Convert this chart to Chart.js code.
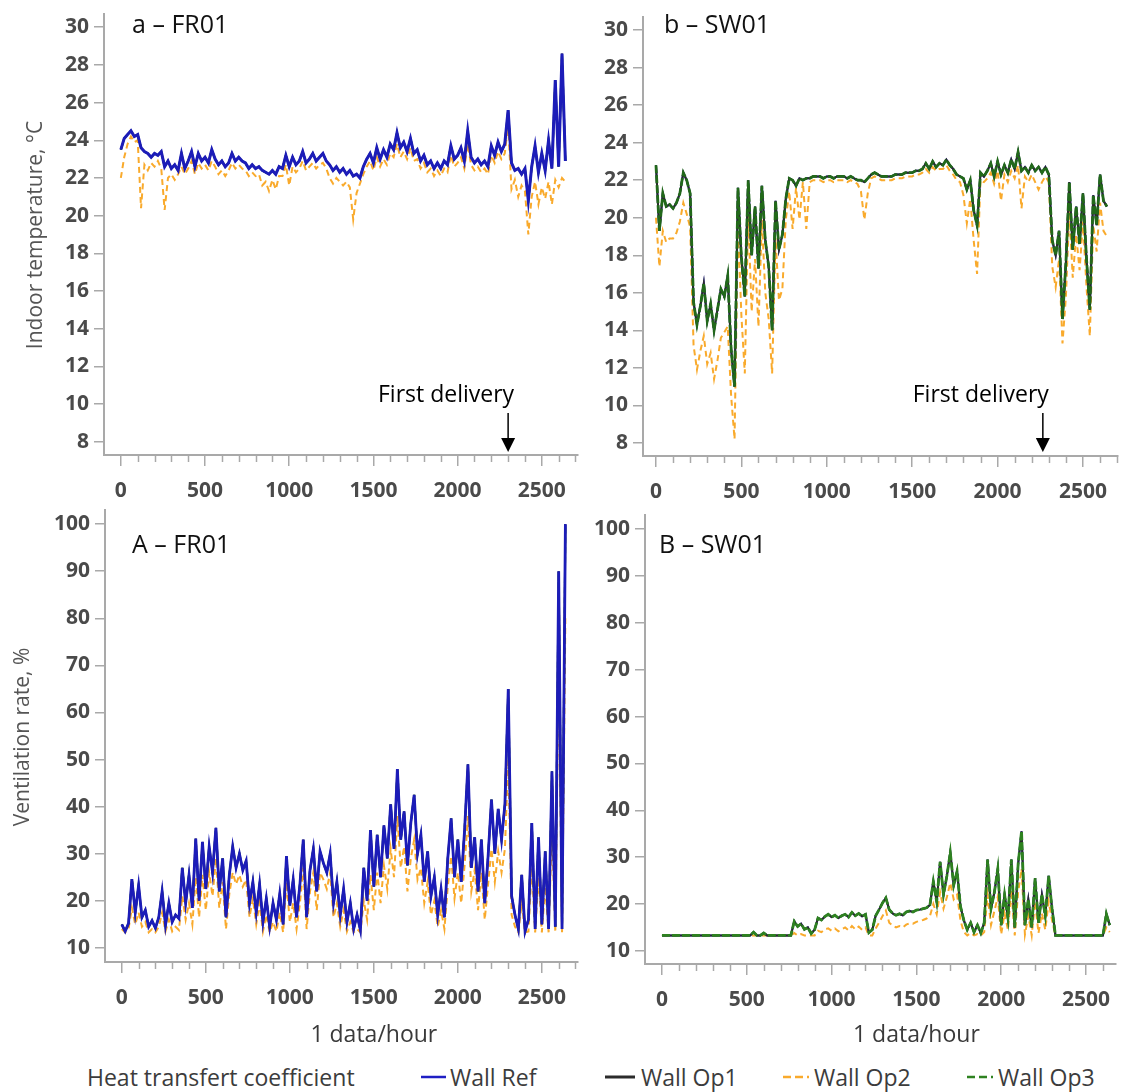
<!DOCTYPE html>
<html>
<head>
<meta charset="utf-8">
<script src="https://cdn.jsdelivr.net/npm/chart.js@4.4.1/dist/chart.umd.min.js"></script>
<style>
  body { margin: 0; background: #fff; }
  #fig { position: relative; width: 1123px; height: 1092px; font-family: "Open Sans", sans-serif; overflow: hidden; }
  canvas { position: absolute; }
  .lg { position: absolute; top: 1063px; font-size: 23px; line-height: 28px; color: #3c3c3c; white-space: nowrap; }
  .sw { position: absolute; top: 1074px; }
</style>
</head>
<body>
<div id="fig">
  <canvas id="cTempFR" width="600" height="520" style="left:0;top:0"></canvas>
  <canvas id="cTempSW" width="563" height="520" style="left:560px;top:0"></canvas>
  <canvas id="cVentFR" width="600" height="560" style="left:0;top:500px"></canvas>
  <canvas id="cVentSW" width="563" height="560" style="left:560px;top:500px"></canvas>

  <div class="lg" style="left:87px">Heat transfert coefficient</div>
  <svg class="sw" style="left:421px" width="25" height="6"><line x1="0" y1="3" x2="25" y2="3" stroke="#1f1fc4" stroke-width="2.5"/></svg>
  <div class="lg" style="left:450px">Wall Ref</div>
  <svg class="sw" style="left:605px" width="30" height="6"><line x1="0" y1="3" x2="30" y2="3" stroke="#2b2b2b" stroke-width="3"/></svg>
  <div class="lg" style="left:641px">Wall Op1</div>
  <svg class="sw" style="left:783px" width="26" height="6"><line x1="0" y1="3" x2="26" y2="3" stroke="#f9aa2c" stroke-width="2.5" stroke-dasharray="8,4"/></svg>
  <div class="lg" style="left:814px">Wall Op2</div>
  <svg class="sw" style="left:967px" width="26" height="6"><line x1="0" y1="3" x2="26" y2="3" stroke="#2e8220" stroke-width="2.5" stroke-dasharray="8,4"/></svg>
  <div class="lg" style="left:998px">Wall Op3</div>
</div>

<script>
// one sample every 20 hours
const hours = [
  0, 20, 40, 60, 80, 100, 120, 140, 160, 180, 200, 220, 240, 260, 280, 300, 320, 340, 360, 380, 400, 420, 440, 460, 480,
  500, 520, 540, 560, 580, 600, 620, 640, 660, 680, 700, 720, 740, 760, 780, 800, 820, 840, 860, 880, 900, 920, 940, 960, 980,
  1000, 1020, 1040, 1060, 1080, 1100, 1120, 1140, 1160, 1180, 1200, 1220, 1240, 1260, 1280, 1300, 1320, 1340, 1360, 1380, 1400, 1420, 1440, 1460, 1480,
  1500, 1520, 1540, 1560, 1580, 1600, 1620, 1640, 1660, 1680, 1700, 1720, 1740, 1760, 1780, 1800, 1820, 1840, 1860, 1880, 1900, 1920, 1940, 1960, 1980,
  2000, 2020, 2040, 2060, 2080, 2100, 2120, 2140, 2160, 2180, 2200, 2220, 2240, 2260, 2280, 2300, 2320, 2340, 2360, 2380, 2400, 2420, 2440, 2460, 2480,
  2500, 2520, 2540, 2560, 2580, 2600, 2620, 2640
];

const hourTicks = [0, 500, 1000, 1500, 2000, 2500];
const tempTicks = [8, 10, 12, 14, 16, 18, 20, 22, 24, 26, 28, 30];
const ventTicks = [10, 20, 30, 40, 50, 60, 70, 80, 90, 100];

// FR01 indoor temperature - Wall Ref (Op1 and Op3 lie on it)
const frTempRef = [
  23.5, 24.1, 24.3, 24.5, 24.2, 24.3, 23.6, 23.4, 23.3, 23.1, 23.3, 23.2, 23.4, 22.6, 22.9, 22.5, 22.7, 22.4, 23.3, 22.5, 22.9, 23.4, 22.6, 23.3, 22.9,
  23.1, 22.8, 23.5, 23.0, 22.7, 22.9, 22.6, 22.8, 23.3, 22.9, 23.1, 22.9, 22.8, 22.5, 22.7, 22.5, 22.6, 22.4, 22.3, 22.2, 22.4, 22.2, 22.6, 22.5, 23.2,
  22.6, 23.1, 22.7, 22.9, 23.4, 22.8, 23.0, 23.3, 22.9, 23.1, 23.3, 22.9, 22.7, 22.4, 22.6, 22.3, 22.5, 22.2, 22.4, 22.1, 22.2, 22.0, 22.6, 23.0, 23.3,
  22.8, 23.6, 23.0, 23.5, 23.1, 23.8, 23.5, 24.4, 23.6, 23.9, 23.4, 24.1, 23.3, 23.5, 22.9, 23.2, 22.7, 22.9, 22.5, 22.8, 22.5, 22.9, 22.7, 23.7, 23.0,
  23.2, 23.6, 22.9, 24.5, 23.1, 22.8, 23.0, 22.7, 22.9, 22.6, 23.7, 23.2, 23.9, 23.4, 23.8, 25.6, 22.8, 22.4, 22.5, 22.2, 22.5, 20.8, 22.6, 23.7, 22.3,
  23.3, 22.4, 24.0, 22.5, 27.2, 22.6, 28.6, 22.9
];
const frTempOp2 = [
  22.0, 23.1, 23.8, 24.2, 23.9, 24.0, 20.4, 22.7, 22.4, 22.8, 22.6, 22.9, 22.5, 20.3, 22.0, 22.2, 21.9, 22.2, 22.6, 22.2, 22.5, 22.9, 22.2, 22.8, 22.5,
  22.7, 22.4, 22.9, 22.6, 22.2, 22.4, 22.1, 22.4, 22.8, 22.5, 22.7, 22.5, 22.4, 22.1, 22.3, 22.1, 22.2, 21.6, 21.8, 21.3, 21.9, 21.4, 22.1, 22.1, 22.7,
  21.6, 22.6, 22.3, 22.5, 22.9, 22.4, 22.6, 22.8, 22.5, 22.7, 22.8, 22.5, 22.0, 21.7, 22.0, 21.8, 21.6, 21.8, 21.5, 19.8, 21.2, 21.7, 22.2, 22.6, 22.9,
  22.4, 23.1, 22.6, 23.0, 22.7, 23.3, 23.1, 23.8, 23.1, 23.4, 23.0, 23.6, 22.9, 23.0, 22.5, 22.8, 22.3, 22.5, 22.1, 22.4, 22.1, 22.5, 22.3, 23.2, 22.6,
  22.8, 23.1, 22.5, 23.8, 22.7, 22.4, 22.6, 22.3, 22.5, 22.2, 23.2, 22.8, 23.4, 23.0, 23.3, 24.8, 21.4, 21.9, 21.0, 21.6, 21.3, 19.0, 21.0, 21.8, 20.6,
  21.5, 20.9, 21.8, 20.6, 21.9, 21.5, 22.0, 21.8
];

// SW01 indoor temperature - Wall Op3 (Ref and Op1 lie on it)
const swTempOp3 = [
  22.8, 19.3, 21.3, 20.6, 20.7, 20.5, 20.8, 21.3, 22.4, 22.0, 21.3, 15.5, 14.3, 15.3, 16.5, 14.5, 15.4, 14.0, 15.1, 16.2, 15.8, 16.9, 13.0, 11.0, 21.6,
  17.9, 15.8, 22.0, 18.0, 20.6, 17.3, 21.7, 18.8, 17.4, 14.0, 20.9, 18.3, 19.1, 21.0, 22.1, 22.0, 21.7, 22.1, 22.0, 22.1, 22.1, 22.2, 22.2, 22.2, 22.1,
  22.2, 22.2, 22.1, 22.2, 22.2, 22.2, 22.1, 22.2, 22.1, 22.0, 22.0, 21.9, 22.1, 22.3, 22.4, 22.3, 22.2, 22.2, 22.2, 22.2, 22.3, 22.3, 22.3, 22.4, 22.4,
  22.4, 22.5, 22.5, 22.6, 22.9, 22.6, 23.0, 22.7, 22.9, 22.8, 23.1, 22.8, 22.6, 22.3, 22.2, 22.1, 21.5, 22.0, 20.4, 19.6, 22.4, 22.2, 22.5, 22.9, 22.2,
  23.0, 22.3, 22.8, 22.4, 23.1, 22.6, 23.5, 22.5, 22.7, 22.4, 22.8, 22.5, 22.7, 22.4, 22.7, 22.3, 18.8, 18.0, 19.3, 14.6, 17.6, 21.9, 18.3, 20.6, 18.6,
  21.3, 17.9, 15.1, 21.2, 19.6, 22.3, 20.9, 20.6
];
const swTempOp2 = [
  20.0, 17.4, 19.3, 18.7, 18.9, 18.9, 19.2, 19.8, 20.8, 20.2, 19.5, 13.2, 11.9, 12.9, 13.7, 12.2, 12.8, 11.4, 12.4, 13.6, 13.9, 14.2, 10.5, 8.2, 19.6,
  14.8, 11.7, 20.2, 15.0, 17.8, 14.2, 19.9, 16.0, 14.6, 11.7, 18.9, 15.6, 16.2, 19.9, 21.4, 19.4, 21.6, 19.9, 21.9, 19.4, 21.9, 22.0, 22.0, 22.0, 21.9,
  22.0, 22.0, 21.9, 22.0, 22.0, 22.0, 21.9, 22.0, 21.9, 21.8, 21.4, 19.9, 21.3, 22.1, 22.2, 22.1, 22.0, 22.0, 22.0, 22.0, 22.1, 22.1, 22.1, 22.2, 22.2,
  22.2, 22.3, 22.3, 22.4, 22.6, 22.4, 22.7, 22.5, 22.6, 22.6, 22.8, 22.5, 22.3, 22.0, 21.9, 21.2, 19.7, 21.0, 18.8, 17.0, 22.0, 21.9, 22.1, 22.4, 21.8,
  22.5, 20.9, 22.3, 21.9, 22.5, 22.1, 22.8, 20.5, 22.2, 21.9, 22.3, 21.9, 21.5, 21.9, 22.2, 21.9, 17.4, 16.3, 17.8, 13.3, 15.8, 20.4, 16.8, 19.1, 17.2,
  19.8, 16.4, 13.7, 19.6, 18.2, 20.8, 19.3, 19.0
];

// FR01 ventilation rate - Wall Ref (Op1 and Op3 lie on it)
const frVentRef = [
  15.0, 13.5, 15.2, 24.6, 17.5, 23.3, 16.5, 18.0, 14.5, 15.8, 14.2, 16.5, 22.0, 14.8, 19.5, 15.5, 17.0, 16.2, 27.0, 19.5, 25.5, 18.5, 33.2, 20.0, 32.5,
  22.5, 31.5, 26.0, 35.5, 22.0, 29.0, 16.5, 25.5, 31.5, 27.0, 30.0, 26.5, 28.5, 19.5, 24.0, 17.5, 23.5, 15.5, 20.5, 14.5, 19.5, 16.0, 21.5, 15.0, 29.5,
  19.0, 24.5, 16.5, 23.5, 33.0, 16.5, 26.5, 31.0, 22.0, 30.5, 28.0, 26.0, 30.0, 19.5, 24.0, 17.0, 22.5, 15.5, 19.5, 14.0, 17.0, 13.8, 27.0, 20.0, 35.0,
  23.0, 34.0, 25.0, 36.0, 29.0, 40.5, 31.0, 48.0, 33.0, 39.0, 27.5, 36.5, 42.5, 30.0, 34.0, 24.0, 30.5, 21.0, 25.0, 17.0, 22.5, 16.5, 29.0, 37.5, 25.0,
  33.0, 24.0, 35.0, 49.0, 27.0, 33.5, 22.0, 33.0, 19.5, 29.5, 41.5, 30.0, 39.5, 33.0, 40.5, 65.0, 21.0, 17.0, 14.0, 25.5, 13.5, 16.0, 36.5, 14.0, 33.5,
  15.0, 30.5, 14.0, 47.5, 14.5, 90.0, 14.0, 100.0
];
const frVentOp2 = [
  14.0, 13.3, 14.0, 18.5, 15.0, 17.5, 14.5, 15.5, 13.3, 14.0, 13.3, 14.5, 17.5, 13.5, 16.0, 13.5, 14.5, 13.8, 21.0, 16.0, 19.5, 15.0, 25.0, 16.5, 25.5,
  18.0, 26.0, 21.0, 29.0, 18.5, 24.0, 14.0, 21.5, 26.0, 23.5, 25.5, 23.0, 24.5, 16.5, 20.5, 15.0, 19.5, 13.5, 17.0, 13.3, 15.5, 13.5, 17.5, 13.3, 24.0,
  15.5, 19.5, 14.0, 19.5, 27.0, 14.0, 22.0, 26.0, 18.0, 26.0, 24.5, 22.5, 26.0, 16.5, 19.5, 14.5, 18.0, 13.5, 15.5, 13.3, 14.0, 13.3, 20.0, 16.0, 25.5,
  18.0, 26.0, 19.5, 27.5, 22.5, 31.0, 25.0, 38.0, 27.0, 31.5, 22.0, 29.0, 33.0, 24.5, 27.0, 19.5, 24.0, 17.0, 20.0, 14.5, 18.0, 14.0, 23.0, 29.5, 20.5,
  26.0, 19.5, 27.5, 38.0, 22.0, 26.5, 18.0, 26.0, 16.0, 23.5, 31.0, 24.0, 30.5, 26.0, 31.0, 50.0, 17.0, 14.5, 13.3, 19.5, 13.3, 13.5, 27.0, 13.3, 25.0,
  13.3, 23.0, 13.3, 35.0, 13.3, 70.0, 13.3, 80.0
];

// SW01 ventilation rate - Wall Op3 (Ref and Op1 lie on it)
const swVentOp3 = [
  13.3, 13.3, 13.3, 13.3, 13.3, 13.3, 13.3, 13.3, 13.3, 13.3, 13.3, 13.3, 13.3, 13.3, 13.3, 13.3, 13.3, 13.3, 13.3, 13.3, 13.3, 13.3, 13.3, 13.3, 13.3,
  13.3, 13.3, 14.0, 13.3, 13.3, 13.8, 13.3, 13.3, 13.3, 13.3, 13.3, 13.3, 13.3, 13.3, 16.3, 15.2, 15.8, 14.6, 15.0, 13.7, 14.5, 17.0, 16.6, 17.3, 17.8,
  17.2, 17.6, 17.0, 17.5, 17.8, 17.2, 18.2, 17.5, 18.0, 17.4, 17.8, 13.9, 14.5, 17.5, 18.8, 20.2, 21.3, 18.8, 18.0, 17.6, 17.9, 17.6, 18.3, 18.5, 18.3,
  18.7, 18.8, 19.0, 19.2, 19.8, 24.8, 20.5, 29.0, 22.0, 26.0, 31.0, 24.0, 27.0, 19.5, 16.5, 14.5, 16.0, 14.0, 15.5, 13.8, 16.0, 29.5, 19.0, 22.5, 27.5,
  15.5, 22.0, 17.0, 29.5, 15.0, 28.5, 35.5, 15.5, 21.0, 15.0, 25.5, 16.0, 22.0, 17.5, 26.0, 19.0, 13.3, 13.3, 13.3, 13.3, 13.3, 13.3, 13.3, 13.3, 13.3,
  13.3, 13.3, 13.3, 13.3, 13.3, 13.3, 17.9, 15.5
];
const swVentOp2 = [
  13.3, 13.3, 13.3, 13.3, 13.3, 13.3, 13.3, 13.3, 13.3, 13.3, 13.3, 13.3, 13.3, 13.3, 13.3, 13.3, 13.3, 13.3, 13.3, 13.3, 13.3, 13.3, 13.3, 13.3, 13.3,
  13.3, 13.3, 13.3, 13.3, 13.3, 13.3, 13.3, 13.3, 13.3, 13.3, 13.3, 13.3, 13.3, 13.3, 13.8, 13.3, 13.6, 13.3, 13.3, 13.3, 13.3, 14.3, 14.0, 14.6, 14.8,
  14.3, 14.8, 14.2, 14.6, 15.0, 14.4, 15.3, 14.6, 15.2, 14.5, 15.0, 13.3, 13.3, 14.8, 16.0, 17.4, 18.6, 16.0, 15.4, 15.0, 15.3, 15.0, 15.6, 15.9, 15.8,
  16.2, 16.4, 16.6, 16.9, 17.4, 20.0, 17.8, 22.5, 19.0, 21.5, 24.5, 21.0, 22.0, 16.5, 14.0, 13.3, 13.8, 13.3, 13.6, 13.3, 14.0, 22.0, 15.5, 18.5, 21.5,
  13.5, 18.0, 14.5, 23.0, 13.3, 22.5, 27.5, 13.5, 17.5, 13.3, 20.5, 13.8, 18.0, 14.5, 20.5, 16.5, 13.3, 13.3, 13.3, 13.3, 13.3, 13.3, 13.3, 13.3, 13.3,
  13.3, 13.3, 13.3, 13.3, 13.3, 13.3, 15.0, 14.0
];

const colors = { ref: "#1c1cb8", op1: "#2b2b2b", op2: "#f9aa2c", op3: "#2e8220", op3dark: "#22691a" };
const axisGrey = "#a9a9a9";
const tickColor = "#4a4a4a";
const tickFont = { family: "Open Sans", size: 21, weight: "bold" };

function pts(values) {
  return hours.map((h, i) => ({ x: h, y: values[i] }));
}

function line(label, values, color, width, dash, order) {
  return {
    label: label,
    data: pts(values),
    borderColor: color,
    borderWidth: width,
    borderDash: dash,
    pointRadius: 0,
    tension: 0,
    fill: false,
    order: order,
  };
}

// FR01: blue Wall Ref on top; SW01: green Wall Op3 on top
function frDatasets(upper, op2, w) {
  return [
    line("Wall Ref", upper, colors.ref, w, [], 0),
    line("Wall Op1", upper, colors.op1, 2, [], 2),
    line("Wall Op2", op2, colors.op2, 2, [6, 4], 3),
    line("Wall Op3", upper, colors.op3, 2, [6, 4], 1),
  ];
}
function swDatasets(upper, op2, green) {
  return [
    line("Wall Ref", upper, colors.ref, 2, [], 2),
    line("Wall Op1", upper, colors.op1, 2, [], 1),
    line("Wall Op2", op2, colors.op2, 2, [6, 4], 3),
    line("Wall Op3", upper, green, 2.8, [8, 2], 0),
  ];
}

// titles, axis names, minor ticks and the "First delivery" arrow
function decor(p) {
  return {
    id: "decor",
    afterDraw(chart) {
      const ctx = chart.ctx;
      const xs = chart.scales.x;
      const area = chart.chartArea;
      ctx.save();

      // minor ticks every 100 h
      ctx.strokeStyle = axisGrey;
      ctx.lineWidth = 1.5;
      for (let v = 100; v <= xs.max; v += 100) {
        if (v % 500 === 0) continue;
        const x = Math.round(xs.getPixelForValue(v)) + 0.5;
        ctx.beginPath();
        ctx.moveTo(x, area.bottom + 1);
        ctx.lineTo(x, area.bottom + 7);
        ctx.stroke();
      }

      ctx.fillStyle = "#111";
      ctx.font = "25px 'Open Sans'";
      ctx.textAlign = "left";
      ctx.textBaseline = "alphabetic";
      ctx.fillText(p.title, p.titlePos[0], p.titlePos[1]);

      if (p.yTitle) {
        ctx.save();
        ctx.translate(p.yTitlePos[0], p.yTitlePos[1]);
        ctx.rotate(-Math.PI / 2);
        ctx.textAlign = "center";
        ctx.textBaseline = "middle";
        ctx.fillStyle = "#555";
        ctx.font = "21px 'Open Sans'";
        ctx.fillText(p.yTitle, 0, 0);
        ctx.restore();
      }

      if (p.xTitle) {
        ctx.textAlign = "center";
        ctx.textBaseline = "middle";
        ctx.fillStyle = "#3a3a3a";
        ctx.font = "23px 'Open Sans'";
        ctx.fillText(p.xTitle, xs.getPixelForValue(1500), p.xTitleY);
      }

      if (p.delivery != null) {
        const x = xs.getPixelForValue(p.delivery);
        ctx.strokeStyle = "#000";
        ctx.lineWidth = 1.5;
        ctx.beginPath();
        ctx.moveTo(x, 413);
        ctx.lineTo(x, 440);
        ctx.stroke();
        ctx.fillStyle = "#000";
        ctx.beginPath();
        ctx.moveTo(x - 7, 438);
        ctx.lineTo(x + 7, 438);
        ctx.lineTo(x, 452);
        ctx.closePath();
        ctx.fill();
        ctx.textAlign = "right";
        ctx.textBaseline = "alphabetic";
        ctx.font = "23px 'Open Sans'";
        ctx.fillText("First delivery", x + 6, 402);
      }
      ctx.restore();
    },
  };
}

function makeChart(id, p) {
  return new Chart(document.getElementById(id), {
    type: "line",
    data: { datasets: p.datasets },
    options: {
      responsive: false,
      animation: false,
      layout: { padding: p.padding },
      plugins: { legend: { display: false }, tooltip: { enabled: false } },
      scales: {
        x: {
          type: "linear",
          bounds: "data",
          min: p.xMin,
          max: p.xMax,
          afterBuildTicks: (s) => { s.ticks = hourTicks.map((v) => ({ value: v })); },
          afterFit: (s) => { s.height = 50; s.paddingLeft = 0; s.paddingRight = 0; },
          grid: { drawOnChartArea: false, tickLength: 11, color: axisGrey, lineWidth: 1.5 },
          border: { color: axisGrey, width: 2 },
          ticks: { padding: 12, color: tickColor, font: tickFont, maxRotation: 0, autoSkip: false, callback: (v) => String(v) },
        },
        y: {
          type: "linear",
          bounds: "data",
          min: p.yMin,
          max: p.yMax,
          afterBuildTicks: (s) => { s.ticks = p.yTicks.map((v) => ({ value: v })); },
          afterFit: (s) => { s.width = 60; s.paddingTop = 0; s.paddingBottom = 0; },
          grid: { drawOnChartArea: false, tickLength: 10, color: axisGrey, lineWidth: 1.5 },
          border: { color: axisGrey, width: 2 },
          ticks: { padding: 5, color: tickColor, font: tickFont, autoSkip: false, callback: (v) => String(v) },
        },
      },
    },
    plugins: [decor(p)],
  });
}

makeChart("cTempFR", {
  datasets: frDatasets(frTempRef, frTempOp2, 3),
  padding: { top: 14, left: 44, right: 22, bottom: 15 },
  xMin: -100, xMax: 2715, yMin: 7.3, yMax: 30.7, yTicks: tempTicks,
  title: "a \u2013 FR01", titlePos: [132, 33],
  yTitle: "Indoor temperature, \u00b0C", yTitlePos: [36, 235],
  delivery: 2300,
});

makeChart("cTempSW", {
  datasets: swDatasets(swTempOp3, swTempOp2, colors.op3dark),
  padding: { top: 17, left: 23, right: 5, bottom: 14 },
  xMin: -76, xMax: 2705, yMin: 7.3, yMax: 30.7, yTicks: tempTicks,
  title: "b \u2013 SW01", titlePos: [104, 33],
  delivery: 2265,
});

makeChart("cVentFR", {
  datasets: frDatasets(frVentRef, frVentOp2, 2.8),
  padding: { top: 10, left: 45, right: 22, bottom: 48 },
  xMin: -100, xMax: 2715, yMin: 7.0, yMax: 103, yTicks: ventTicks,
  title: "A \u2013 FR01", titlePos: [132, 53],
  yTitle: "Ventilation rate, %", yTitlePos: [23, 237],
  xTitle: "1 data/hour", xTitleY: 535,
});

makeChart("cVentSW", {
  datasets: swDatasets(swVentOp3, swVentOp2, colors.op3),
  padding: { top: 15, left: 25, right: 7, bottom: 46 },
  xMin: -100, xMax: 2677, yMin: 7.2, yMax: 103, yTicks: ventTicks,
  title: "B \u2013 SW01", titlePos: [99, 53],
  xTitle: "1 data/hour", xTitleY: 535,
});
</script>
</body>
</html>
